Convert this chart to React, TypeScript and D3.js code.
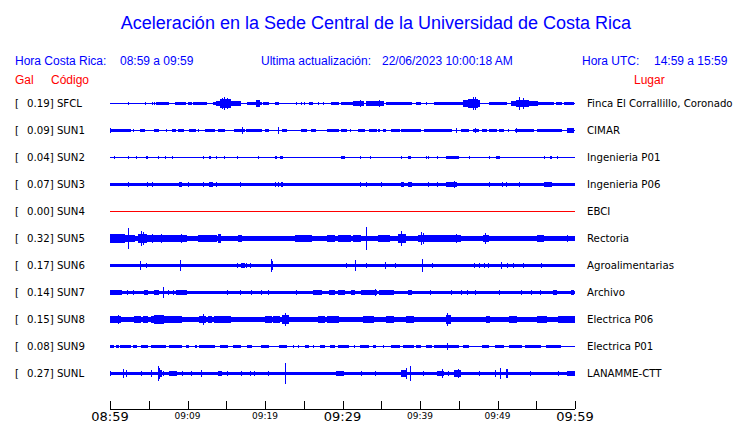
import React from "react";
import * as d3 from "d3";

const W = 740;
const H = 423;

const title = "Aceleración en la Sede Central de la Universidad de Costa Rica";
const stations = ["SFCL", "SUN1", "SUN2", "SUN3", "SUN4", "SUN5", "SUN6", "SUN7", "SUN8", "SUN9", "SUNL"];
const peakGal = [0.19, 0.09, 0.04, 0.07, 0.0, 0.32, 0.17, 0.14, 0.15, 0.08, 0.27];
const places = [
  "Finca El Corrallillo, Coronado",
  "CIMAR",
  "Ingenieria P01",
  "Ingenieria P06",
  "EBCI",
  "Rectoria",
  "Agroalimentarias",
  "Archivo",
  "Electrica P06",
  "Electrica P01",
  "LANAMME-CTT",
];
// background noise level (Gal) of each trace
const baseGal = [0.014, 0.014, 0.014, 0.042, 0.014, 0.06, 0.042, 0.045, 0.06, 0.014, 0.05];

// [start minute, end minute, amplitude Gal] (minutes after 08:59)
type Ev = [number, number, number];
const evSFCL: Ev[] = [[2.4,2.4,0.046],[4.6,4.6,0.03],[5.5,5.5,0.033],[5.7,5.7,0.033],[6.0,7.5,0.05],[8.4,9.7,0.04],[10.1,10.5,0.035],[10.8,12.5,0.04],[13.3,13.8,0.055],[13.8,16.8,0.08],[14.2,15.6,0.12],[14.5,14.5,0.15],[14.8,14.8,0.17],[15.1,15.1,0.14],[17.8,19.6,0.05],[18.9,19.3,0.11],[19.8,20.4,0.04],[21.3,21.7,0.04],[24.1,24.1,0.03],[24.7,24.7,0.03],[25.1,25.1,0.03],[25.7,26.1,0.035],[26.9,26.9,0.03],[27.6,27.6,0.03],[28.6,29.5,0.04],[29.9,31.4,0.045],[31.4,32.7,0.06],[32.3,32.3,0.085],[33.1,35.3,0.06],[34.8,34.8,0.1],[35.7,36.6,0.04],[36.6,38.9,0.04],[39.6,40.0,0.03],[40.9,40.9,0.03],[41.9,43.0,0.035],[43.2,45.6,0.04],[45.6,47.7,0.09],[46.3,47.4,0.13],[46.9,46.9,0.19],[47.2,47.2,0.17],[49.0,51.2,0.045],[51.8,55.1,0.07],[52.5,54.0,0.11],[52.9,52.9,0.19],[53.3,53.3,0.16],[55.1,57.2,0.05],[57.6,58.3,0.04],[58.7,59.8,0.045]];
const evSUN1: Ev[] = [[0,1.3,0.055],[0.1,0.1,0.07],[1.5,2.2,0.04],[2.4,2.6,0.04],[3.0,3.0,0.04],[3.9,4.5,0.045],[5.8,6.2,0.05],[7.3,7.3,0.04],[8.0,8.4,0.045],[8.8,9.5,0.045],[10.3,11.0,0.045],[11.4,11.4,0.04],[12.3,13.5,0.045],[14.0,14.2,0.04],[14.4,14.8,0.04],[16.1,17.4,0.05],[17.1,17.1,0.1],[17.6,18.5,0.045],[18.7,19.6,0.045],[20.0,20.4,0.04],[21.7,21.7,0.1],[22.2,22.8,0.04],[24.7,25.4,0.05],[26.0,26.5,0.04],[28.0,29.5,0.045],[29.9,30.5,0.045],[31.0,31.0,0.04],[32.0,32.9,0.04],[33.5,34.4,0.04],[34.6,34.8,0.04],[35.3,35.5,0.04],[36.3,37.4,0.04],[37.6,40.0,0.045],[40.6,42.6,0.045],[42.8,44.1,0.045],[44.7,44.7,0.06],[45.4,46.2,0.04],[46.9,47.5,0.05],[47.1,47.1,0.08],[48.0,48.6,0.04],[49.0,49.9,0.04],[50.3,50.8,0.04],[51.4,51.4,0.04],[52.3,54.6,0.045],[52.4,52.4,0.08],[55.1,58.3,0.04],[59.0,59.8,0.06],[59.4,59.4,0.075]];
const evSUN2: Ev[] = [[0.56,0.56,0.03],[2.4,2.4,0.03],[3.4,3.4,0.03],[4.7,4.9,0.035],[6.2,6.2,0.03],[7.1,7.1,0.03],[8.0,8.0,0.03],[12.0,12.0,0.03],[12.8,13.0,0.04],[13.8,13.8,0.03],[14.8,14.8,0.03],[16.5,16.5,0.03],[19.1,19.1,0.03],[21.3,21.3,0.03],[21.5,21.5,0.03],[22.0,22.3,0.04],[29.9,30.3,0.04],[32.3,32.3,0.03],[33.6,33.6,0.03],[37.6,37.6,0.03],[38.5,38.8,0.04],[40.8,40.8,0.03],[41.1,41.1,0.03],[42.2,42.2,0.03],[43.4,45.0,0.04],[46.4,46.4,0.03],[49.0,49.0,0.03],[49.9,50.3,0.04],[56.1,56.1,0.03],[56.8,57.0,0.035],[57.8,57.8,0.03]];
const evSUN3: Ev[] = [[2.4,2.4,0.07],[4.9,4.9,0.07],[5.5,5.5,0.07],[9.0,9.2,0.08],[10.1,10.1,0.06],[12.0,12.0,0.06],[12.9,13.2,0.08],[13.7,13.7,0.06],[16.8,16.8,0.06],[21.3,21.3,0.06],[21.7,21.7,0.06],[22.1,22.3,0.08],[32.3,32.3,0.06],[33.1,33.1,0.06],[35.0,35.0,0.06],[37.6,37.9,0.08],[38.5,38.9,0.07],[41.1,41.1,0.06],[42.2,42.2,0.06],[43.4,44.7,0.06],[44.5,44.5,0.09],[49.0,49.0,0.06],[50.7,50.7,0.06],[51.2,51.2,0.06],[52.9,52.9,0.06],[56.1,57.0,0.07],[57.2,60,0.05]];
const evSUN4: Ev[] = [];
const evSUN5: Ev[] = [[0,1.9,0.12],[2.4,2.4,0.28],[1.9,3.2,0.1],[3.7,4.7,0.13],[4.0,4.0,0.2],[4.3,4.3,0.17],[4.7,8.0,0.1],[5.5,5.5,0.13],[6.6,6.6,0.12],[8.2,9.9,0.09],[9.2,9.2,0.12],[11.4,12.3,0.11],[12.3,13.8,0.1],[14.0,14.3,0.13],[14.4,16.6,0.08],[16.6,17.0,0.1],[21.3,23.4,0.07],[23.9,26.0,0.09],[25.0,25.0,0.11],[26.2,28.0,0.08],[28.0,29.0,0.1],[29.5,31.0,0.09],[31.4,32.3,0.09],[32.9,34.4,0.08],[33.1,33.1,0.31],[34.6,36.1,0.1],[37.2,38.1,0.13],[37.6,37.6,0.2],[38.1,39.6,0.08],[39.8,42.6,0.11],[40.2,40.2,0.19],[40.5,40.5,0.16],[42.6,45.2,0.09],[44.7,44.7,0.12],[48.2,48.8,0.11],[48.5,48.5,0.15],[48.8,52.0,0.08],[52.0,55.1,0.08],[55.1,55.9,0.11],[55.9,60,0.08],[59.0,59.0,0.11]];
const evSUN6: Ev[] = [[3.9,3.9,0.13],[4.7,4.7,0.07],[7.2,7.2,0.05],[9.1,9.1,0.16],[15.3,15.7,0.05],[16.4,16.4,0.07],[17.0,17.4,0.07],[17.6,17.6,0.08],[18.1,18.1,0.06],[20.9,20.9,0.19],[21.0,21.0,0.12],[22.6,22.6,0.05],[23.9,24.3,0.05],[30.5,30.5,0.06],[31.7,31.7,0.15],[33.1,33.1,0.06],[35.6,35.6,0.1],[36.9,36.9,0.07],[40.3,40.3,0.18],[41.6,41.6,0.06],[44.5,44.5,0.05],[45.2,45.2,0.05],[47.0,47.0,0.07],[47.7,47.7,0.06],[48.3,48.3,0.06],[48.8,48.8,0.08],[50.5,50.5,0.09],[51.3,51.3,0.06],[52.1,52.1,0.06],[53.3,53.3,0.07],[54.4,54.4,0.05],[55.7,55.7,0.08],[57.3,57.3,0.05],[58.6,58.6,0.05]];
const evSUN7: Ev[] = [[0,1.5,0.065],[0.4,0.4,0.08],[2.2,2.2,0.06],[3.0,3.0,0.06],[4.5,4.9,0.06],[5.8,6.2,0.07],[6.9,6.9,0.15],[7.5,7.5,0.06],[8.2,8.2,0.06],[8.6,9.9,0.07],[13.1,13.1,0.05],[15.1,15.1,0.06],[16.8,16.8,0.06],[18.2,18.2,0.06],[19.5,19.5,0.06],[20.4,20.4,0.06],[24.1,24.1,0.06],[25.8,25.8,0.05],[26.2,27.3,0.08],[28.3,29.0,0.08],[29.5,30.3,0.07],[31.2,31.6,0.06],[32.5,34.4,0.07],[34.2,34.2,0.09],[34.8,36.6,0.06],[38.5,38.9,0.07],[41.3,41.3,0.06],[44.1,44.1,0.06],[45.4,45.4,0.06],[46.1,46.1,0.06],[47.1,47.1,0.06],[50.3,50.3,0.06],[53.1,53.1,0.06],[54.4,54.4,0.06],[55.5,55.5,0.06],[57.2,57.6,0.07],[59.6,59.8,0.08]];
const evSUN8: Ev[] = [[0,1.3,0.1],[1.1,1.1,0.12],[3.2,3.9,0.09],[4.3,4.9,0.09],[5.4,9.2,0.09],[5.8,6.9,0.12],[9.7,11.4,0.08],[11.6,12.3,0.1],[12.0,12.0,0.15],[12.7,13.1,0.1],[13.5,15.5,0.09],[16.6,17.8,0.08],[18.9,19.6,0.08],[20.0,20.9,0.09],[21.1,21.9,0.09],[22.2,23.0,0.12],[22.6,22.6,0.175],[23.4,25.2,0.08],[26.9,27.7,0.09],[28.0,29.5,0.09],[29.7,34.8,0.08],[32.7,34.0,0.1],[35.7,36.6,0.09],[38.3,39.1,0.09],[43.4,43.9,0.12],[43.6,43.6,0.17],[43.9,46.0,0.08],[46.9,47.7,0.08],[48.6,49.0,0.1],[50.3,50.8,0.08],[51.6,52.5,0.1],[51.9,51.9,0.11],[55.1,56.3,0.1],[57.9,60,0.09]];
const evSUN9: Ev[] = [[0,0.4,0.035],[0.9,1.1,0.035],[1.3,1.7,0.035],[1.9,2.6,0.04],[3.0,3.4,0.035],[4.1,4.9,0.04],[5.4,7.1,0.04],[7.7,9.2,0.04],[9.9,10.1,0.035],[11.0,11.2,0.05],[11.6,13.5,0.04],[14.2,15.1,0.04],[15.9,16.8,0.04],[17.8,18.3,0.04],[19.6,20.4,0.04],[21.9,22.8,0.05],[23.7,23.7,0.035],[24.3,24.3,0.035],[25.2,25.6,0.04],[26.2,26.2,0.035],[27.1,27.7,0.04],[28.4,29.0,0.04],[29.5,30.8,0.04],[31.6,31.6,0.035],[32.3,33.3,0.04],[34.0,34.2,0.04],[35.3,35.3,0.035],[36.3,37.4,0.04],[37.9,39.1,0.04],[39.6,40.0,0.04],[40.9,41.5,0.04],[41.9,45.0,0.04],[43.5,43.5,0.09],[45.6,46.2,0.04],[48.0,48.8,0.04],[49.7,50.8,0.04],[51.6,53.1,0.04],[53.6,55.5,0.04],[56.3,58.1,0.04]];
const evSUNL: Ev[] = [[0,0,0.07],[1.7,1.7,0.12],[2.1,2.1,0.09],[4.1,4.1,0.06],[5.3,5.3,0.09],[6.2,6.6,0.1],[6.2,6.2,0.2],[6.4,6.4,0.15],[6.9,6.9,0.07],[7.7,8.6,0.07],[9.4,9.4,0.06],[10.5,10.5,0.07],[11.8,11.8,0.1],[14.0,14.4,0.08],[15.1,15.1,0.06],[17.0,17.0,0.07],[18.1,18.1,0.06],[18.7,18.7,0.06],[20.4,20.4,0.07],[22.6,22.6,0.3],[26.0,26.0,0.05],[29.2,30.1,0.08],[32.5,32.5,0.07],[34.3,34.3,0.07],[37.6,38.3,0.09],[38.3,38.3,0.14],[38.8,38.8,0.21],[40.4,40.4,0.07],[42.2,43.0,0.08],[42.9,42.9,0.13],[43.7,43.7,0.07],[44.5,45.2,0.1],[45.0,45.0,0.12],[47.7,47.7,0.07],[49.7,49.7,0.09],[50.4,50.4,0.16],[51.1,51.3,0.12],[54.3,54.3,0.07],[57.9,57.9,0.08],[59.0,60,0.07]];
const events: Ev[][] = [evSFCL, evSUN1, evSUN2, evSUN3, evSUN4, evSUN5, evSUN6, evSUN7, evSUN8, evSUN9, evSUNL];

const tickMinutes = d3.range(0, 61, 5);
const startCR = new Date(2023, 5, 22, 8, 59);

const BLUE = "#0000ff";
const RED = "#ff0000";
const SANS = "'Liberation Sans', Arial, sans-serif";
const DEJA = "'DejaVu Sans', sans-serif";

const x = d3.scaleLinear().domain([0, 60]).range([110, 575]);
const y = d3.scalePoint<string>().domain(stations).range([103.5, 373.5]);
const ampPx = d3.scaleLinear().domain([0, 1]).range([0, 36]);
const fmt = d3.timeFormat("%H:%M");

function envelope(base: number, evs: Ev[]) {
  const n = Math.round(x(60) - x(0));
  const dt = 60 / n;
  const out: { t: number; a: number }[] = [];
  for (let i = 0; i < n; i++) {
    const t0 = i * dt;
    const t1 = (i + 1) * dt;
    let a = base;
    for (const [s, e, v] of evs) if (s < t1 && e >= t0) a = Math.max(a, v);
    out.push({ t: t0, a });
  }
  out.push({ t: 60, a: out[n - 1].a });
  return out;
}

export default function App() {
  const axisY = 409;
  return (
    <svg width={W} height={H} style={{ position: "absolute", left: 0, top: 0, background: "#fff" }}>
      <rect width={W} height={H} fill="#fff" />
      <text x={376} y={29} textAnchor="middle" fontFamily={SANS} fontSize={18} fill={BLUE}>
        {title}
      </text>
      <g fontFamily={SANS} fontSize={12} fill={BLUE}>
        <text x={15} y={65}>Hora Costa Rica:</text>
        <text x={120} y={65}>08:59 a 09:59</text>
        <text x={261} y={65}>Ultima actualización:</text>
        <text x={382} y={65}>22/06/2023 10:00:18 AM</text>
        <text x={582} y={65}>Hora UTC:</text>
        <text x={654} y={65}>14:59 a 15:59</text>
      </g>
      <g fontFamily={SANS} fontSize={12} fill={RED}>
        <text x={15} y={84}>Gal</text>
        <text x={51} y={84}>Código</text>
        <text x={634} y={84}>Lugar</text>
      </g>
      {stations.map((s, i) => {
        const cy = y(s) as number;
        const data = envelope(baseGal[i], events[i]);
        const area = d3
          .area<{ t: number; a: number }>()
          .x((d) => x(d.t))
          .y0((d) => cy + Math.max(0.5, ampPx(d.a)))
          .y1((d) => cy - Math.max(0.5, ampPx(d.a)))
          .curve(d3.curveStepAfter);
        const color = peakGal[i] === 0 ? RED : BLUE;
        return (
          <g key={s}>
            <text x={15} y={cy + 3.6} fontFamily={DEJA} fontSize={10.2} fill="#000">[</text>
            <text x={27} y={cy + 3.6} fontFamily={DEJA} fontSize={10.2} fill="#000">
              {`${peakGal[i].toFixed(2)}] ${s}`}
            </text>
            <path d={area(data) || ""} fill={color} shapeRendering="crispEdges" />
            <text x={587} y={cy + 3.6} fontFamily={DEJA} fontSize={10.2} fill="#000">
              {places[i]}
            </text>
          </g>
        );
      })}
      <g>
        <line x1={x(0)} x2={x(60)} y1={axisY + 0.5} y2={axisY + 0.5} stroke="#000" shapeRendering="crispEdges" />
        {tickMinutes.map((m) => (
          <line key={m} x1={Math.round(x(m)) + 0.5} x2={Math.round(x(m)) + 0.5} y1={axisY - 8} y2={axisY} stroke="#000" shapeRendering="crispEdges" />
        ))}
        {tickMinutes
          .filter((m) => m % 10 === 0)
          .map((m) => {
            const big = m % 30 === 0;
            return (
              <text
                key={"l" + m}
                x={x(m)}
                y={big ? 421 : 419}
                textAnchor="middle"
                fontFamily={DEJA}
                fontSize={big ? 13 : 9}
                fill="#000"
              >
                {fmt(d3.timeMinute.offset(startCR, m))}
              </text>
            );
          })}
      </g>
    </svg>
  );
}
